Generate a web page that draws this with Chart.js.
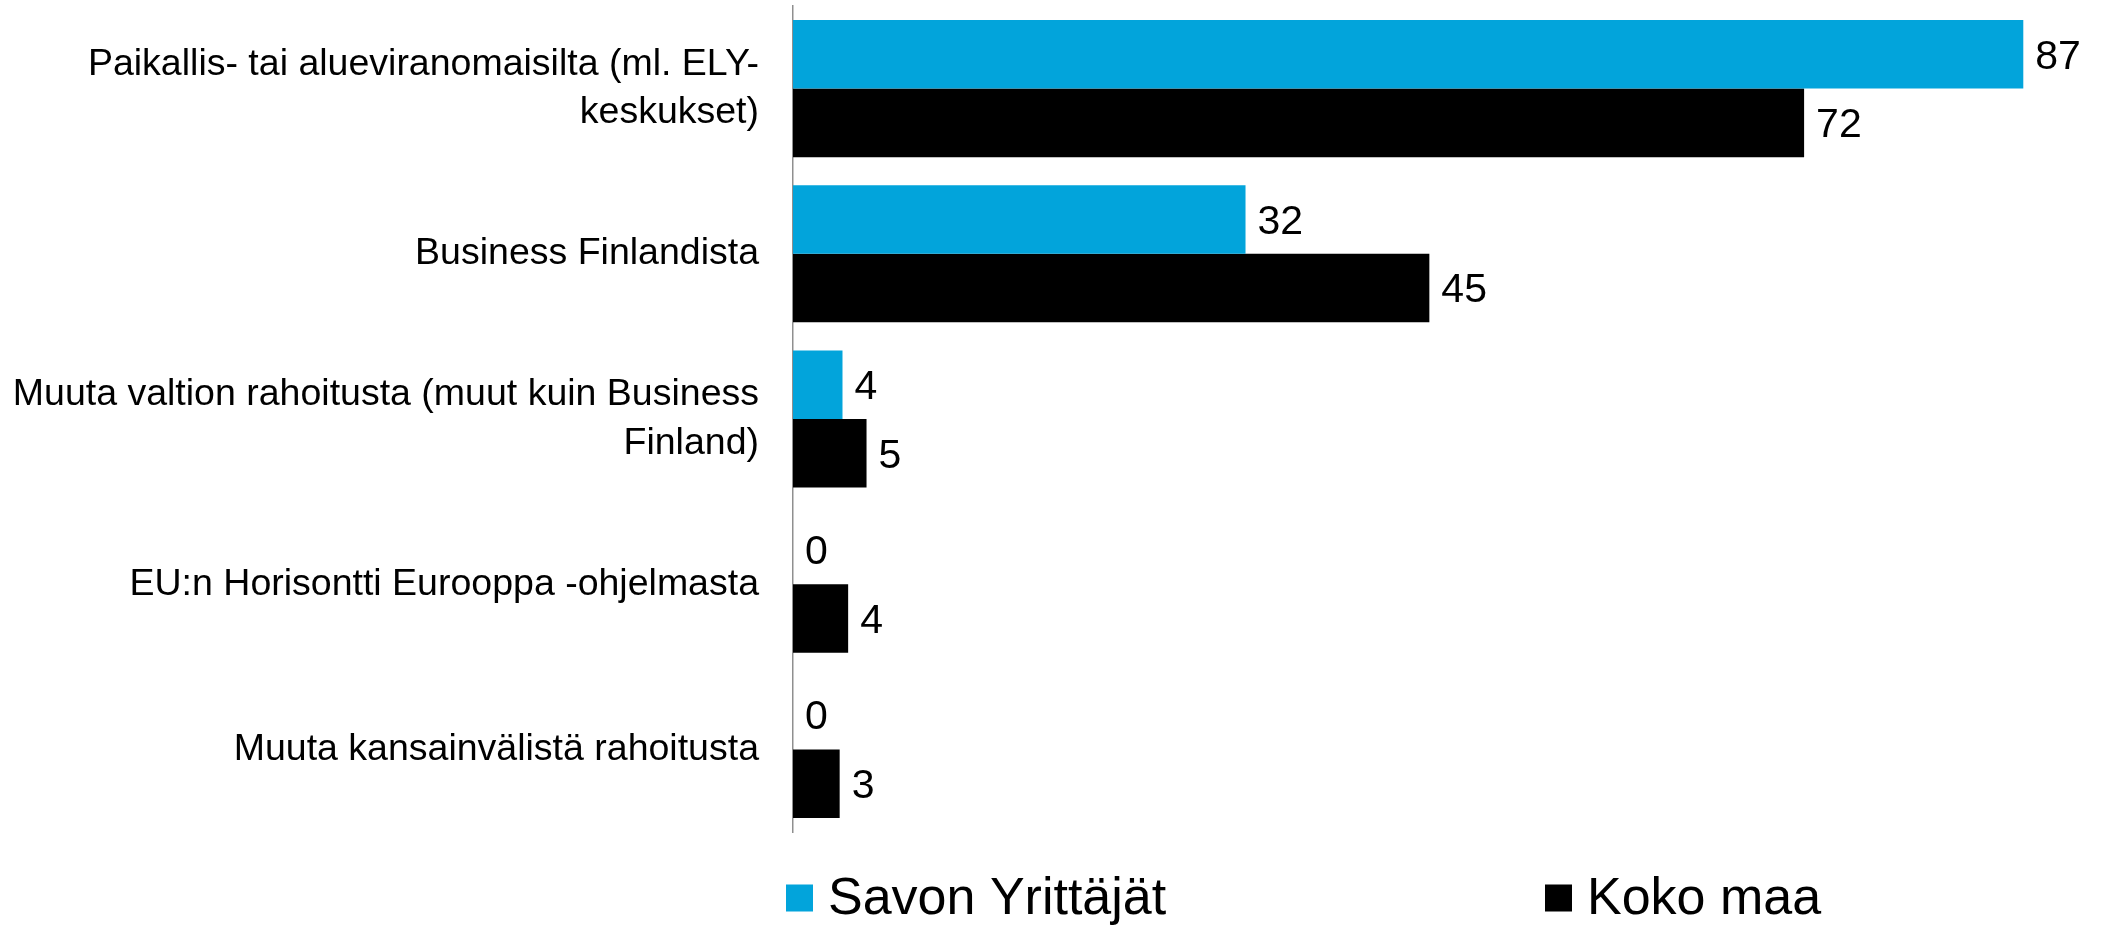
<!DOCTYPE html>
<html>
<head>
<meta charset="utf-8">
<title>Rahoitus</title>
<script src="https://cdn.jsdelivr.net/npm/chart.js@4/dist/chart.umd.min.js"></script>
<style>
    html, body { margin: 0; padding: 0; background: #ffffff; }
    #wrap { width: 2101px; height: 925px; }
</style>
</head>
<body>
<div id="wrap"><canvas id="myChart" width="2101" height="925"></canvas></div>
<script>
// Categories (multi-line labels as arrays)
let categories = [
    ["Paikallis- tai alueviranomaisilta (ml. ELY-", "keskukset)"],
    "Business Finlandista",
    ["Muuta valtion rahoitusta (muut kuin Business", "Finland)"],
    "EU:n Horisontti Eurooppa -ohjelmasta",
    "Muuta kansainvälistä rahoitusta"
];

// Series values
let savonValues = [87, 32, 3.5, 0, 0];
let kokoMaaValues = [71.5, 45, 5.2, 3.9, 3.3];

// Series names
let seriesNames = ["Savon Yrittäjät", "Koko maa"];

const fontFamily = "'Liberation Sans', Arial, Helvetica, sans-serif";

// Plugin to draw value labels at the end of each bar
const barValueLabels = {
    id: 'barValueLabels',
    afterDatasetsDraw(chart) {
        const ctx = chart.ctx;
        ctx.save();
        ctx.font = "41px " + fontFamily;
        ctx.fillStyle = '#000000';
        ctx.textAlign = 'left';
        ctx.textBaseline = 'middle';
        chart.data.datasets.forEach((dataset, i) => {
            let meta = chart.getDatasetMeta(i);
            meta.data.forEach((bar, j) => {
                let value = dataset.data[j];
                ctx.fillText(String(Math.round(value)), bar.x + 12, bar.y + 3);
            });
        });
        ctx.restore();
    }
};

// Plugin to draw the legend row under the chart
const legendRow = {
    id: 'legendRow',
    afterDraw(chart) {
        const ctx = chart.ctx;
        let startX = [786, 1545];
        let centerY = 898;
        let box = 27;
        ctx.save();
        ctx.font = "52px " + fontFamily;
        ctx.textAlign = 'left';
        ctx.textBaseline = 'middle';
        chart.data.datasets.forEach((dataset, i) => {
            ctx.fillStyle = dataset.backgroundColor;
            ctx.fillRect(startX[i], centerY - box / 2, box, box);
            ctx.fillStyle = '#000000';
            ctx.fillText(dataset.label, startX[i] + box + 15, centerY + 2);
        });
        ctx.restore();
    }
};

// Initialize the chart
const ctx = document.getElementById('myChart').getContext('2d');
const chart = new Chart(ctx, {
    type: 'bar',
    data: {
        labels: categories,
        datasets: [{
            label: seriesNames[0],
            data: savonValues,
            backgroundColor: '#02a4db',
            categoryPercentage: 0.83,
            barPercentage: 1.0
        }, {
            label: seriesNames[1],
            data: kokoMaaValues,
            backgroundColor: '#000000',
            categoryPercentage: 0.83,
            barPercentage: 1.0
        }]
    },
    options: {
        indexAxis: 'y',
        responsive: false,
        animation: false,
        layout: {
            padding: { top: 6, right: 7, bottom: 93, left: 0 }
        },
        plugins: {
            legend: { display: false },
            tooltip: { enabled: false }
        },
        scales: {
            x: {
                display: false,
                min: 0,
                max: 92
            },
            y: {
                grid: { display: false, drawTicks: false },
                border: { display: true, color: '#8f8f8f', width: 1.5 },
                ticks: {
                    color: '#000000',
                    padding: 34,
                    font: { family: fontFamily, size: 37.5, lineHeight: 1.3 }
                },
                afterFit: function(scale) {
                    // fixed axis width, and no extra room for the outer labels
                    scale.width = 793;
                    scale.paddingTop = 0;
                    scale.paddingBottom = 0;
                }
            }
        }
    },
    plugins: [barValueLabels, legendRow]
});
</script>
</body>
</html>
